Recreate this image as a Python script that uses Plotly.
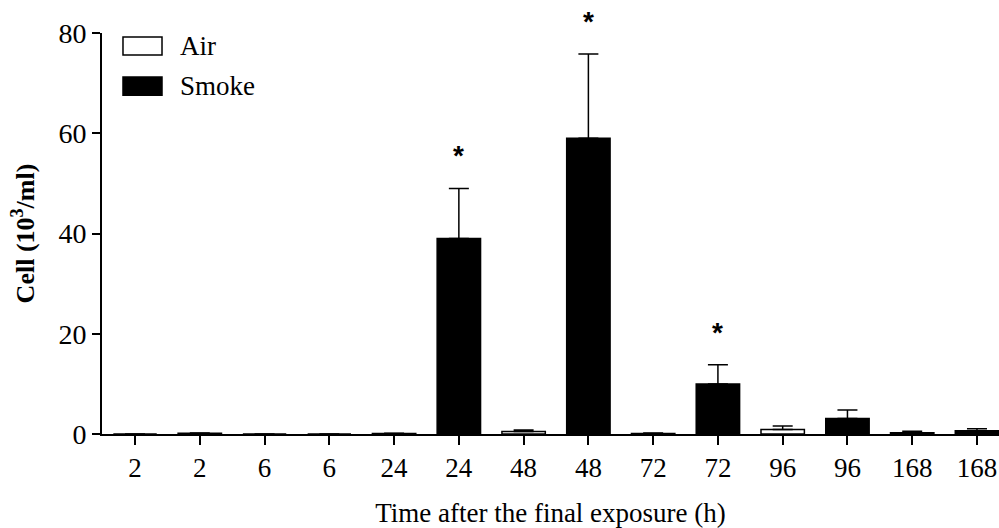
import plotly.graph_objects as go

tick_labels = ["2", "2", "6", "6", "24", "24", "48", "48", "72", "72", "96", "96", "168", "168"]
air_values = [0.0, 0.0, 0.1, 0.5, 0.1, 0.9, 0.26]
air_errors = [0.0, 0.0, 0.05, 0.3, 0.1, 0.7, 0.28]
smoke_values = [0.15, 0.0, 39.0, 59.0, 10.0, 3.1, 0.66]
smoke_errors = [0.05, 0.0, 10.0, 16.8, 3.8, 1.7, 0.4]
smoke_significant = [False, False, True, True, True, False, False]
series_names = ["Air", "Smoke"]
series_fill = ["white", "black"]

air_x = [i for i in range(len(tick_labels)) if i % 2 == 0]
smoke_x = [i for i in range(len(tick_labels)) if i % 2 == 1]

font = "Liberation Serif, Times New Roman, serif"

fig = go.Figure()
for name, xs, vals, errs, fill in zip(series_names, [air_x, smoke_x],
                                       [air_values, smoke_values],
                                       [air_errors, smoke_errors], series_fill):
    fig.add_trace(go.Bar(
        x=xs, y=vals, name=name, width=0.67, showlegend=False,
        marker=dict(color=fill, line=dict(color="black", width=1.5)),
        error_y=dict(type="data", array=errs, arrayminus=[0] * len(errs),
                     symmetric=False, color="black", thickness=1.5, width=10),
    ))

for xi, v, e, sig in zip(smoke_x, smoke_values, smoke_errors, smoke_significant):
    if sig:
        fig.add_annotation(x=xi, y=v + e, text="<b>*</b>", showarrow=False,
                           yanchor="bottom", yshift=15,
                           font=dict(family="Arial, sans-serif", size=28, color="black"))

# manual legend (wide rectangular swatches like the reference)
legend_rows_y = [0.9675, 0.8675]
for name, fill, yc in zip(series_names, series_fill, legend_rows_y):
    fig.add_shape(type="rect", xref="paper", yref="paper",
                  x0=0.0234, x1=0.0669, y0=yc - 0.0225, y1=yc + 0.0225,
                  fillcolor=fill, line=dict(color="black", width=1.5))
    fig.add_annotation(xref="paper", yref="paper", x=0.0845, y=yc, text=name,
                       showarrow=False, xanchor="left", yanchor="middle",
                       font=dict(family=font, size=27, color="black"))

fig.update_layout(
    width=999, height=528,
    margin=dict(l=102, r=0, t=33, b=94),
    plot_bgcolor="white", paper_bgcolor="white",
    barmode="overlay",
    font=dict(family=font, color="black"),
    showlegend=False,
    xaxis=dict(
        range=[-0.51, 13.34],
        tickmode="array", tickvals=list(range(len(tick_labels))), ticktext=tick_labels,
        ticks="outside", ticklen=9, tickwidth=1.5, tickcolor="black",
        showline=True, linecolor="black", linewidth=2,
        showgrid=False, zeroline=False,
        tickfont=dict(family=font, size=27, color="black"),
        title=dict(text="Time after the final exposure (h)", standoff=24,
                   font=dict(family=font, size=27, color="black")),
    ),
    yaxis=dict(
        range=[0, 80], tickvals=[0, 20, 40, 60, 80],
        ticks="outside", ticklen=8, tickwidth=1.5, tickcolor="black",
        showline=True, linecolor="black", linewidth=2,
        showgrid=False, zeroline=False,
        tickfont=dict(family=font, size=28, color="black"),
        title=dict(text="<b>Cell (10<sup>3</sup>/ml)</b>", standoff=16,
                   font=dict(family=font, size=26, color="black")),
    ),
)

fig.write_html("out.html")
